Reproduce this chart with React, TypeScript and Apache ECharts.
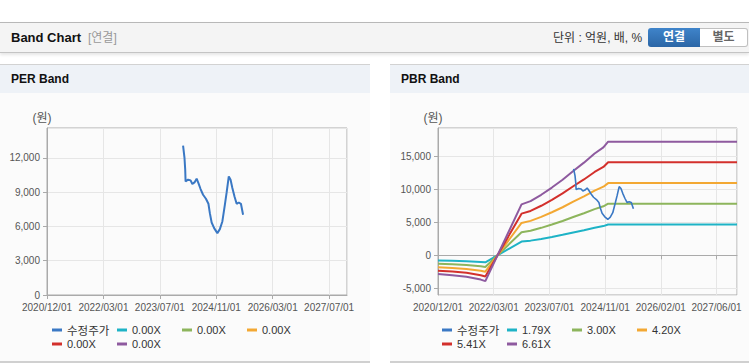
import React, { useEffect, useRef } from 'react';
import * as echarts from 'echarts';

// ---------- data ----------
const PRICE_DATES = [
  '2024-02-04', '2024-02-16', '2024-02-22', '2024-02-25', '2024-03-16', '2024-04-07', '2024-04-22',
  '2024-05-10', '2024-05-28', '2024-06-13', '2024-07-01', '2024-07-22', '2024-08-16', '2024-09-07',
  '2024-09-19', '2024-10-04', '2024-10-25', '2024-11-22', '2024-12-13', '2025-01-04', '2025-01-25',
  '2025-02-10', '2025-02-28', '2025-03-13', '2025-03-28', '2025-04-16', '2025-05-04', '2025-05-22',
  '2025-06-10', '2025-06-28',
];
const PRICE_VALUES = [
  13080, 12000, 10975, 9950, 10100, 10035, 9720,
  9860, 10185, 9800, 9280, 8780, 8430, 7990,
  7170, 6350, 5855, 5420, 5770, 6440, 7900,
  8980, 10390, 10100, 9370, 8630, 7990, 8100,
  7990, 7025,
];

const BAND_DATES = [
  '2020-12-01', '2021-04-01', '2021-08-01', '2021-12-01', '2022-01-10', '2022-11-15', '2023-02-01',
  '2023-05-01', '2023-08-01', '2023-11-01', '2024-02-01', '2024-05-01', '2024-08-01', '2024-10-15',
  '2024-11-25', '2027-12-01',
];
const BAND_179 = [-800, -830, -880, -993, -1056, 2085, 2220, 2479, 2775, 3097, 3455, 3795, 4171, 4421, 4654, 4654];
const BAND_300 = [-1290, -1365, -1470, -1665, -1770, 3495, 3720, 4155, 4650, 5190, 5790, 6360, 6990, 7410, 7800, 7800];
const BAND_420 = [-1806, -1911, -2058, -2331, -2478, 4893, 5208, 5817, 6510, 7266, 8106, 8904, 9786, 10374, 10920, 10920];
const BAND_541 = [-2326, -2462, -2651, -3003, -3192, 6303, 6708, 7493, 8386, 9359, 10441, 11469, 12605, 13363, 14066, 14066];
const BAND_661 = [-2842, -3008, -3239, -3669, -3900, 7701, 8196, 9155, 10246, 11435, 12757, 14013, 15401, 16327, 17186, 17186];

const PBR_LABELS = ['1.79X', '3.00X', '4.20X', '5.41X', '6.61X'];
const PER_LABELS = ['0.00X', '0.00X', '0.00X', '0.00X', '0.00X'];
const PRICE_LABEL = '수정주가';

const PER_X_TICKS = ['2020/12/01', '2022/03/01', '2023/07/01', '2024/11/01', '2026/03/01', '2027/07/01'];
const PBR_X_TICKS = ['2020/12/01', '2022/03/01', '2023/07/01', '2024/11/01', '2026/02/01', '2027/06/01'];

const PRICE_COLOR = '#3a78c4';
const BAND_COLORS = ['#1eb3c6', '#8db55c', '#f3a833', '#d3302c', '#8e5a9f'];

// ---------- helpers ----------
const AXIS_FONT = "'Liberation Sans', Arial, sans-serif";
const LEGEND_FONT = "'Liberation Sans', 'Noto Sans CJK KR', sans-serif";
const CJK_FONT = "'Noto Sans CJK KR', sans-serif";

function toMonth(d: string): number {
  const [y, m, day] = d.split('-').map(Number);
  return (y - 2020) * 12 + (m - 12) + (day - 1) / 30;
}

function pairs(dates: string[], vals: number[]) {
  return dates.map((d, i) => [toMonth(d), vals[i]]);
}

function xAxisCfg(interval: number, labels: string[]) {
  return {
    type: 'value',
    min: 0,
    max: 84,
    interval,
    axisLine: { lineStyle: { color: '#aaaaaa' } },
    axisTick: { show: true, length: 4, lineStyle: { color: '#aaaaaa' } },
    axisLabel: {
      color: '#555',
      fontSize: 10,
      fontFamily: AXIS_FONT,
      margin: 7,
      showMaxLabel: false,
      formatter: (v: number) => {
        const i = Math.round(v / interval);
        return Math.abs(v - i * interval) < 0.01 && labels[i] ? labels[i] : '';
      },
    },
    splitLine: { show: true, lineStyle: { color: '#e6e6e6' } },
  };
}

function yAxisCommon() {
  return {
    type: 'value',
    axisLine: { show: true, lineStyle: { color: '#aaaaaa' } },
    axisTick: { show: true, length: 4, lineStyle: { color: '#aaaaaa' } },
    splitLine: { show: true, lineStyle: { color: '#e6e6e6' } },
  };
}

function legendCfg(names: string[], labelOf: (n: string) => string) {
  return {
    left: 52,
    top: 230,
    width: 262,
    padding: 0,
    itemGap: 0,
    itemWidth: 10,
    itemHeight: 3,
    icon: 'rect',
    data: names,
    formatter: (n: string) => (n === 'price' ? '{k|' + labelOf(n) + '}' : labelOf(n)),
    textStyle: {
      color: '#333', fontSize: 11, fontFamily: LEGEND_FONT, width: 50, lineHeight: 14,
      rich: { k: { fontFamily: CJK_FONT, fontSize: 11.5, color: '#333', lineHeight: 14 } },
    },
  };
}

function unitText(x: number) {
  return {
    type: 'text',
    x,
    y: 25,
    style: {
      text: '(원)',
      fill: '#555',
      fontSize: 12,
      fontFamily: LEGEND_FONT,
      textAlign: 'center',
      textVerticalAlign: 'middle',
    },
  };
}

function perOption() {
  const ids = ['p1', 'p2', 'p3', 'p4', 'p5'];
  const nameMap: Record<string, string> = { price: PRICE_LABEL };
  ids.forEach((id, i) => (nameMap[id] = PER_LABELS[i]));
  return {
    animation: false,
    grid: { left: 47, top: 35, width: 300, height: 167, show: true, borderColor: '#aaaaaa', borderWidth: 1, backgroundColor: 'transparent' },
    graphic: [unitText(42)],
    legend: legendCfg(['price', ...ids], (n: string) => nameMap[n]),
    xAxis: xAxisCfg(15.8, PER_X_TICKS),
    yAxis: {
      ...yAxisCommon(),
      min: 0,
      max: 14625,
      interval: 3000,
      axisLabel: { color: '#555', fontSize: 10, fontFamily: AXIS_FONT, margin: 7, showMaxLabel: false },
    },
    series: [
      {
        name: 'price', type: 'line', symbol: 'none', data: pairs(PRICE_DATES, PRICE_VALUES),
        lineStyle: { color: PRICE_COLOR, width: 2 }, itemStyle: { color: PRICE_COLOR }, z: 5,
      },
      ...ids.map((id, i) => ({
        name: id, type: 'line', symbol: 'none', data: [],
        lineStyle: { color: BAND_COLORS[i], width: 2 }, itemStyle: { color: BAND_COLORS[i] },
      })),
    ],
  };
}

function pbrOption() {
  const bands = [BAND_179, BAND_300, BAND_420, BAND_541, BAND_661];
  const nameMap: Record<string, string> = { price: PRICE_LABEL };
  PBR_LABELS.forEach((l) => (nameMap[l] = l));
  return {
    animation: false,
    grid: { left: 48, top: 35, width: 299, height: 167, show: true, borderColor: '#aaaaaa', borderWidth: 1, backgroundColor: 'transparent' },
    graphic: [unitText(43)],
    legend: legendCfg(['price', ...PBR_LABELS], (n: string) => nameMap[n]),
    xAxis: xAxisCfg(15.65, PBR_X_TICKS),
    yAxis: {
      ...yAxisCommon(),
      min: -6000,
      max: 19250,
      splitNumber: 5,
      axisLabel: { color: '#555', fontSize: 10, fontFamily: AXIS_FONT, margin: 7, showMaxLabel: false, showMinLabel: false },
    },
    series: [
      {
        name: 'price', type: 'line', symbol: 'none', data: pairs(PRICE_DATES, PRICE_VALUES),
        lineStyle: { color: PRICE_COLOR, width: 1.6 }, itemStyle: { color: PRICE_COLOR }, z: 5,
      },
      ...bands.map((vals, i) => ({
        name: PBR_LABELS[i], type: 'line', symbol: 'none', data: pairs(BAND_DATES, vals),
        lineStyle: { color: BAND_COLORS[i], width: 2 }, itemStyle: { color: BAND_COLORS[i] },
      })),
    ],
  };
}

function Chart({ option, width, height }: { option: any; width: number; height: number }) {
  const ref = useRef<HTMLDivElement>(null);
  useEffect(() => {
    if (!ref.current) return;
    const chart = echarts.init(ref.current, null, { renderer: 'svg' });
    chart.setOption(option);
    return () => chart.dispose();
  }, [option]);
  return <div ref={ref} style={{ width, height }} />;
}

const perOpt = perOption();
const pbrOpt = pbrOption();

function Panel({ left, width, title, option }: { left: number; width: number; title: string; option: any }) {
  return (
    <>
      <div
        style={{
          position: 'absolute', left, top: 64, width, height: 28, background: '#eef2f7',
          borderTop: '1px solid #d2d2d2',
        }}
      >
        <span
          style={{
            position: 'absolute', left: 11, top: 0, lineHeight: '29px', fontSize: 12,
            fontWeight: 'bold', color: '#111',
          }}
        >
          {title}
        </span>
      </div>
      <div
        style={{
          position: 'absolute', left, top: 93, width, height: 268, background: '#fbfbfb',
          borderBottom: '2px solid #d0d0d0',
        }}
      >
        <Chart option={option} width={width} height={268} />
      </div>
    </>
  );
}

export default function App() {
  return (
    <div
      style={{
        position: 'absolute', left: 0, top: 0, width: 749, height: 364, background: '#ffffff',
        overflow: 'hidden', fontFamily: "'Liberation Sans', 'Noto Sans CJK KR', sans-serif",
      }}
    >
      <div
        style={{
          position: 'absolute', left: 0, top: 22, width: 749, height: 29, background: '#f4f4f4',
          borderTop: '1px solid #b8b8b8', borderBottom: '1px solid #c4c4c4',
          boxShadow: '0 2px 3px rgba(0,0,0,0.10)',
        }}
      >
        <span style={{ position: 'absolute', left: 11, top: 0, lineHeight: '30px', fontSize: 13, fontWeight: 'bold', color: '#111' }}>
          Band Chart
        </span>
        <span style={{ position: 'absolute', left: 88, top: 0, lineHeight: '30px', fontSize: 12, color: '#999' }}>
          [연결]
        </span>
        <span style={{ position: 'absolute', left: 553, top: 0, lineHeight: '30px', fontSize: 12, color: '#333' }}>
          단위 : 억원, 배, %
        </span>
        <div
          style={{
            position: 'absolute', left: 648, top: 5, width: 52, height: 19, lineHeight: '19px',
            textAlign: 'center', fontSize: 12, fontWeight: 'bold', color: '#fff',
            background: 'linear-gradient(#3f84ca, #2b66a6)', borderRadius: '3px 0 0 3px',
          }}
        >
          연결
        </div>
        <div
          style={{
            position: 'absolute', left: 700, top: 5, width: 47, height: 17, lineHeight: '17px',
            textAlign: 'center', fontSize: 12, fontWeight: 'bold', color: '#666', background: '#fff',
            border: '1px solid #c0c0c0', borderLeft: 'none', borderRadius: '0 3px 3px 0',
          }}
        >
          별도
        </div>
      </div>
      <Panel left={0} width={370} title="PER Band" option={perOpt} />
      <Panel left={390} width={359} title="PBR Band" option={pbrOpt} />
    </div>
  );
}
